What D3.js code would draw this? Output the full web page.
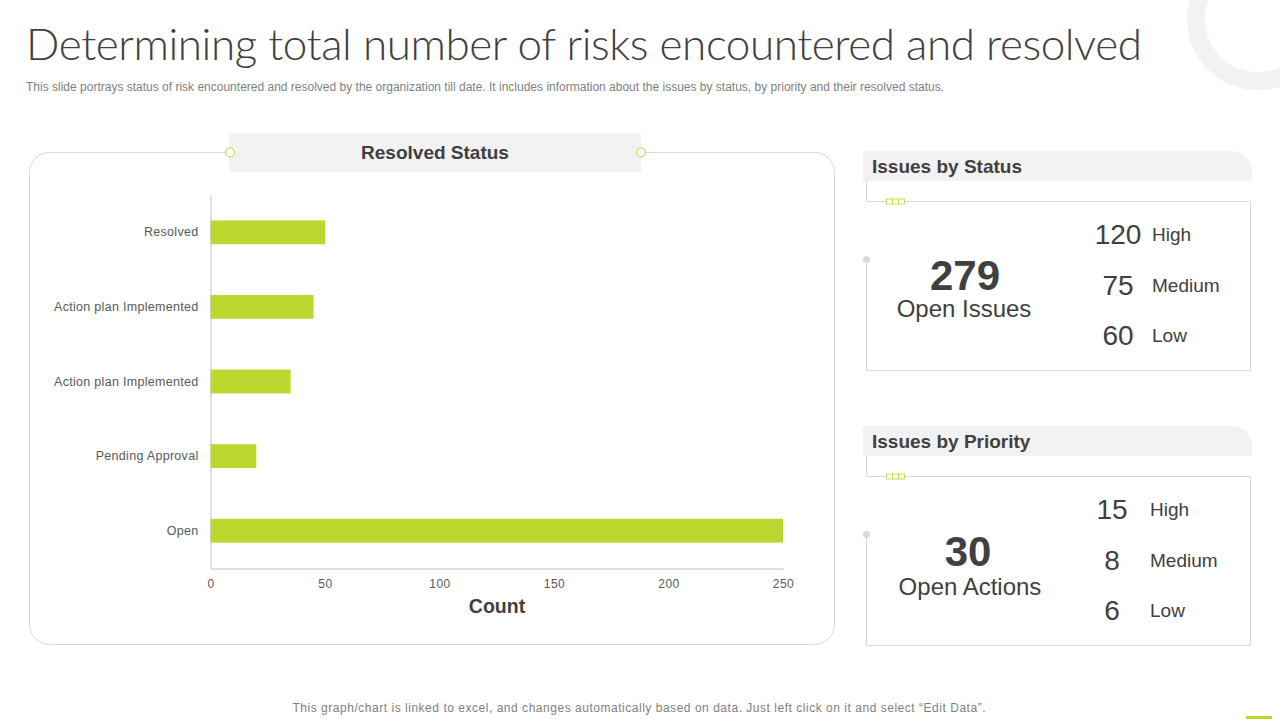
<!DOCTYPE html>
<html>
<head>
<meta charset="utf-8">
<script src="https://cdn.jsdelivr.net/npm/d3@7"></script>
<style>
	html, body { margin: 0; padding: 0; background: #fff; }
	svg { display: block; }
	text { font-family: 'Liberation Sans', Arial, sans-serif; fill: #404040; }
</style>
</head>
<body>
<svg id="chart" width="1280" height="720"></svg>
<script>
const titleText = 'Determining total number of risks encountered and resolved'
const subtitleText = 'This slide portrays status of risk encountered and resolved by the organization till date. It includes information about the issues by status, by priority and their resolved status.'
const footerText = 'This graph/chart is linked to excel, and changes automatically based on data. Just left click on it and select “Edit Data”.'

const statusCategories = ['Resolved', 'Action plan Implemented', 'Action plan Implemented ', 'Pending Approval', 'Open']
const statusCounts = [50, 45, 35, 20, 250]
const countTicks = [0, 50, 100, 150, 200, 250]

const levelLabels = ['High', 'Medium', 'Low']
const issuesByStatus = [120, 75, 60]
const issuesByPriority = [15, 8, 6]

const green = '#bdd630'
const lineGrey = '#d9d9d9'
const headerGrey = '#f2f2f2'

const svg = d3.select('#chart')

// background ring, top right corner
svg.append('circle').attr('cx', 1258).attr('cy', 19).attr('r', 62)
	.attr('fill', 'none').attr('stroke', '#f2f2f2').attr('stroke-width', 18)

svg.append('text').text(titleText)
	.attr('x', 26).attr('y', 60)
	.style('font-family', "Lato, 'Open Sans', sans-serif").style('font-weight', 300).style('font-size', '44px')
	.attr('textLength', 1116).attr('lengthAdjust', 'spacing')

svg.append('text').text(subtitleText)
	.attr('x', 26).attr('y', 91)
	.style('font-size', '12px').style('fill', '#7f7f7f')
	.attr('textLength', 918).attr('lengthAdjust', 'spacingAndGlyphs')

svg.append('text').text(footerText)
	.attr('x', 639).attr('y', 712).attr('text-anchor', 'middle')
	.style('font-size', '12px').style('fill', '#7f7f7f')
	.attr('textLength', 693).attr('lengthAdjust', 'spacing')

svg.append('rect').attr('x', 1246).attr('y', 716).attr('width', 26).attr('height', 3).attr('fill', green)

// left panel with the bar chart
svg.append('rect')
	.attr('x', 29.5).attr('y', 152.5).attr('width', 805).attr('height', 492).attr('rx', 20)
	.attr('fill', '#fff').attr('stroke', lineGrey)
svg.append('rect').attr('x', 229).attr('y', 133).attr('width', 412).attr('height', 39).attr('fill', headerGrey)
svg.selectAll('.knob').data([230, 641]).join('circle')
	.attr('class', 'knob').attr('cx', d => d).attr('cy', 152.5).attr('r', 4.5)
	.attr('fill', '#fff').attr('stroke', green)
svg.append('text').text('Resolved Status')
	.attr('x', 435).attr('y', 159).attr('text-anchor', 'middle')
	.style('font-size', '19px').style('font-weight', 700)

const x = d3.scaleLinear().domain([0, 250]).range([210.5, 783])
const y = d3.scaleBand().domain(statusCategories).range([195, 568]).paddingInner(0.68).paddingOuter(0.34)

svg.selectAll('.bar').data(statusCounts).join('rect')
	.attr('class', 'bar')
	.attr('x', x(0))
	.attr('y', (d, i) => y(statusCategories[i]))
	.attr('width', d => x(d) - x(0))
	.attr('height', y.bandwidth())
	.attr('fill', green)

const xAxis = svg.append('g').attr('transform', 'translate(0,568.5)')
	.call(d3.axisBottom(x).tickValues(countTicks).tickSize(0).tickPadding(11))
xAxis.select('.domain').attr('stroke', '#bfbfbf')
xAxis.selectAll('text').style('font-size', '12px').style('fill', '#595959').attr('letter-spacing', '0.5')

const yAxis = svg.append('g').attr('transform', 'translate(210.5,0)')
	.call(d3.axisLeft(y).tickSize(0).tickPadding(12))
yAxis.select('.domain').attr('stroke', '#bfbfbf')
yAxis.selectAll('text').style('font-size', '12.5px').style('fill', '#595959').attr('letter-spacing', '0.3')

svg.append('text').text('Count')
	.attr('x', 497).attr('y', 613).attr('text-anchor', 'middle')
	.style('font-size', '19.5px').style('font-weight', 700)

// right hand cards
function drawCard(top, opts) {
	const g = svg.append('g').attr('transform', `translate(0,${top})`)
	const boxTop = 50.5
	const boxBottom = 219.5

	g.append('path')
		.attr('d', 'M863,0H1232a20,20 0 0 1 20,20V30H863Z')
		.attr('fill', headerGrey)
	g.append('text').text(opts.title)
		.attr('x', 872).attr('y', 22)
		.style('font-size', '19px').style('font-weight', 700)

	g.append('path')
		.attr('d', `M866.5,30V${boxTop}H1250.5V${boxBottom}H866.5V${opts.dotY}`)
		.attr('fill', 'none').attr('stroke', lineGrey)
	g.append('circle').attr('cx', 866.5).attr('cy', opts.dotY).attr('r', 3.5).attr('fill', lineGrey)

	g.selectAll('.link').data([886, 892, 898]).join('rect')
		.attr('class', 'link')
		.attr('x', d => d + 0.5).attr('y', boxTop - 2.5).attr('width', 6).attr('height', 5)
		.attr('fill', '#fff').attr('stroke', green).attr('stroke-width', 0.8)

	g.append('text').text(opts.total)
		.attr('x', opts.totalX).attr('y', opts.totalY).attr('text-anchor', 'middle')
		.style('font-size', '42px').style('font-weight', 700)
	g.append('text').text(opts.caption)
		.attr('x', opts.captionX).attr('y', opts.captionY).attr('text-anchor', 'middle')
		.style('font-size', '24px')

	const rowY = d3.scalePoint().domain(levelLabels).range([83, 184])
	g.selectAll('.val').data(opts.values).join('text')
		.attr('class', 'val').text(d => d)
		.attr('x', opts.valueX).attr('y', (d, i) => rowY(levelLabels[i]) + 10).attr('text-anchor', 'middle')
		.style('font-size', '28px')
	g.selectAll('.lvl').data(levelLabels).join('text')
		.attr('class', 'lvl').text(d => d)
		.attr('x', opts.labelX).attr('y', d => rowY(d) + 7)
		.style('font-size', '19px')
}

drawCard(151, {
	title: 'Issues by Status', total: '279', caption: 'Open Issues', values: issuesByStatus,
	dotY: 108.5, totalX: 965, totalY: 139, captionX: 964, captionY: 166, valueX: 1118, labelX: 1152,
})
drawCard(426, {
	title: 'Issues by Priority', total: '30', caption: 'Open Actions', values: issuesByPriority,
	dotY: 108.5, totalX: 968, totalY: 140, captionX: 970, captionY: 169, valueX: 1112, labelX: 1150,
})
</script>
</body>
</html>
